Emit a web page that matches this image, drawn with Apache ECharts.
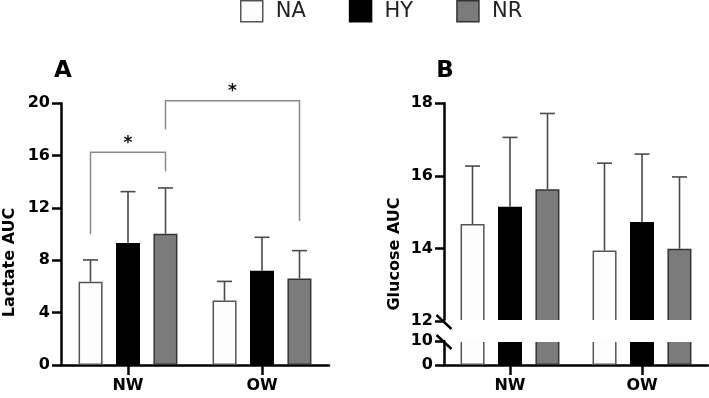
<!DOCTYPE html>
<html>
<head>
<meta charset="utf-8">
<script src="https://cdn.jsdelivr.net/npm/echarts@6/dist/echarts.min.js"></script>
<style>
html, body { margin: 0; padding: 0; background: #fff; }
#main { width: 709px; height: 398px; }
</style>
</head>
<body>
<div id="main"></div>
<script>
// AUC bar chart, panels A (lactate) and B (glucose, broken axis)

var groups = ['NW', 'OW'];
var names = ['NA', 'HY', 'NR'];

// panel A - lactate AUC, means and SD
var lactateNA = [6.37, 4.92];
var lactateHY = [9.32, 7.21];
var lactateNR = [10.04, 6.62];
var lactateSdNA = [1.66, 1.47];
var lactateSdHY = [3.93, 2.55];
var lactateSdNR = [3.49, 2.12];

// panel B - glucose AUC, means and SD
var glucoseNA = [14.67, 13.94];
var glucoseHY = [15.15, 14.73];
var glucoseNR = [15.63, 13.99];
var glucoseSdNA = [1.60, 2.41];
var glucoseSdHY = [1.91, 1.87];
var glucoseSdNR = [2.09, 1.98];

// significance brackets in panel A: [fromGroup, fromBar, fromY, toGroup, toBar, toY, topY]
var brackets = [
    [0, 0, 10.0, 0, 2, 14.8, 16.25],
    [0, 2, 18.0, 1, 2, 11.0, 20.2]
];

// axis ticks
var ticksA = [0, 20, 4];
var ticksBUpper = [12, 18, 2];
var ticksBLower = [0, 10, 10];

var colors = ['#fdfdfd', '#000000', '#7b7b7b'];
var borders = ['#555555', '#000000', '#333333'];
var FONT = 'DejaVu Sans';
var BAR_W = 24;
var BAR_STEP = 37.5;

var dom = document.getElementById('main');
var myChart = echarts.init(dom);

function errorData(means, sds) {
    var out = [];
    means.forEach(function (m, g) {
        out.push([g, m, sds[g]]);
    });
    return out;
}

function errorSeries(xi, yi, bar, means, sds) {
    return {
        type: 'custom',
        xAxisIndex: xi,
        yAxisIndex: yi,
        encode: { x: 0, y: 1 },
        clip: false,
        z: 3,
        silent: true,
        data: errorData(means, sds),
        renderItem: function (params, api) {
            var g = api.value(0), m = api.value(1), s = api.value(2);
            var base = api.coord([g, m]);
            var top = api.coord([g, m + s]);
            var x = base[0] + (bar - 1) * BAR_STEP;
            var st = { stroke: '#4a4a4a', lineWidth: 1.6 };
            return {
                type: 'group',
                children: [
                    { type: 'line', shape: { x1: x, y1: base[1], x2: x, y2: top[1] }, style: st },
                    { type: 'line', shape: { x1: x - 7.5, y1: top[1], x2: x + 7.5, y2: top[1] }, style: st }
                ]
            };
        }
    };
}

function barSeries(name, idx, xi, yi, values) {
    return {
        name: name,
        type: 'bar',
        xAxisIndex: xi,
        yAxisIndex: yi,
        barWidth: BAR_W,
        barGap: '56%',
        clip: true,
        silent: true,
        itemStyle: { color: colors[idx], borderColor: borders[idx], borderWidth: 1.5 },
        data: values
    };
}

// the "//" marks on the broken y axis, plus a white band hiding the bar edges in the gap
function breakSeries(xi, yi, level, gapDir) {
    return {
        type: 'custom',
        xAxisIndex: xi,
        yAxisIndex: yi,
        encode: { x: 0, y: 1 },
        clip: false,
        silent: true,
        z: 5,
        data: [[0, level]],
        renderItem: function (params, api) {
            var yAxisPos = api.coord([0, api.value(1)])[1];
            var cs = params.coordSys;
            var x = cs.x;
            var y = yAxisPos + 1;
            return {
                type: 'group',
                children: [
                    {
                        type: 'rect',
                        shape: { x: x + 1.5, y: gapDir > 0 ? yAxisPos - 1 : yAxisPos - 9, width: cs.width + 2, height: 10 },
                        style: { fill: '#fff' }
                    },
                    {
                        type: 'line',
                        shape: { x1: x - 7.5, y1: y - 7, x2: x + 7.5, y2: y + 7 },
                        style: { stroke: '#000', lineWidth: 2.4 }
                    }
                ]
            };
        }
    };
}

var axisLine = { show: true, lineStyle: { color: '#000', width: 2.5 } };
var tickLabel = { color: '#000', fontFamily: FONT, fontWeight: 'bold', fontSize: 16 };

function yAxis(gi, t) {
    return {
        type: 'value',
        gridIndex: gi,
        min: t[0],
        max: t[1],
        interval: t[2],
        axisLine: axisLine,
        axisTick: { show: true, length: 9, lineStyle: { color: '#000', width: 2.5 } },
        axisLabel: Object.assign({ margin: 11 }, tickLabel),
        splitLine: { show: false }
    };
}

function xAxis(gi, visible) {
    return {
        type: 'category',
        gridIndex: gi,
        data: groups,
        show: visible,
        axisLine: axisLine,
        axisTick: { show: true, alignWithLabel: true, length: 10, lineStyle: { color: '#000', width: 2.5 } },
        axisLabel: Object.assign({ margin: 13 }, tickLabel),
        splitLine: { show: false }
    };
}

var option = {
    animation: false,
    legend: {
        top: 0,
        left: 240,
        padding: 0,
        itemWidth: 22,
        itemHeight: 21,
        itemGap: 43,
        selectedMode: false,
        icon: 'rect',
        textStyle: { fontFamily: FONT, fontSize: 21, color: '#222', padding: [0, 0, 0, 8] },
        data: names.map(function (n, i) {
            return { name: n, itemStyle: { color: colors[i], borderColor: borders[i], borderWidth: 1.5 } };
        })
    },
    grid: [
        { left: 61, top: 103.3, width: 268, height: 261.7, outerBoundsMode: 'none' },
        { left: 444, top: 103.3, width: 264, height: 217.7, outerBoundsMode: 'none' },
        { left: 444, top: 341, width: 264, height: 24, outerBoundsMode: 'none' }
    ],
    xAxis: [xAxis(0, true), xAxis(1, false), xAxis(2, true)],
    yAxis: [yAxis(0, ticksA), yAxis(1, ticksBUpper), yAxis(2, ticksBLower)],
    graphic: [
        { type: 'text', x: 63, y: 71, style: { text: 'A', fontFamily: FONT, fontWeight: 'bold', fontSize: 23, fill: '#000', align: 'center', verticalAlign: 'middle' } },
        { type: 'text', x: 445, y: 71, style: { text: 'B', fontFamily: FONT, fontWeight: 'bold', fontSize: 23, fill: '#000', align: 'center', verticalAlign: 'middle' } },
        { type: 'text', x: 9.5, y: 262.5, rotation: Math.PI / 2, style: { text: 'Lactate AUC', fontFamily: FONT, fontWeight: 'bold', fontSize: 16, fill: '#000', align: 'center', verticalAlign: 'middle' } },
        { type: 'text', x: 395, y: 254, rotation: Math.PI / 2, style: { text: 'Glucose AUC', fontFamily: FONT, fontWeight: 'bold', fontSize: 16, fill: '#000', align: 'center', verticalAlign: 'middle' } }
    ],
    series: [
        barSeries('NA', 0, 0, 0, lactateNA),
        barSeries('HY', 1, 0, 0, lactateHY),
        barSeries('NR', 2, 0, 0, lactateNR),
        errorSeries(0, 0, 0, lactateNA, lactateSdNA),
        errorSeries(0, 0, 1, lactateHY, lactateSdHY),
        errorSeries(0, 0, 2, lactateNR, lactateSdNR),

        barSeries('NA', 0, 1, 1, glucoseNA),
        barSeries('HY', 1, 1, 1, glucoseHY),
        barSeries('NR', 2, 1, 1, glucoseNR),
        errorSeries(1, 1, 0, glucoseNA, glucoseSdNA),
        errorSeries(1, 1, 1, glucoseHY, glucoseSdHY),
        errorSeries(1, 1, 2, glucoseNR, glucoseSdNR),

        barSeries('NA', 0, 2, 2, glucoseNA),
        barSeries('HY', 1, 2, 2, glucoseHY),
        barSeries('NR', 2, 2, 2, glucoseNR),

        breakSeries(1, 1, ticksBUpper[0], 1),
        breakSeries(2, 2, ticksBLower[1], -1),

        {
            type: 'custom',
            xAxisIndex: 0,
            yAxisIndex: 0,
            encode: { x: 0, y: 2 },
            clip: false,
            silent: true,
            z: 4,
            data: brackets,
            renderItem: function (params, api) {
                var p1 = api.coord([api.value(0), api.value(2)]);
                var p2 = api.coord([api.value(3), api.value(5)]);
                var yt = api.coord([api.value(0), api.value(6)])[1];
                var x1 = p1[0] + (api.value(1) - 1) * BAR_STEP;
                var x2 = p2[0] + (api.value(4) - 1) * BAR_STEP;
                return {
                    type: 'group',
                    children: [
                        {
                            type: 'polyline',
                            shape: { points: [[x1, p1[1]], [x1, yt], [x2, yt], [x2, p2[1]]] },
                            style: { stroke: '#8a8a8a', lineWidth: 1.5, fill: null }
                        },
                        {
                            type: 'text',
                            x: (x1 + x2) / 2,
                            y: yt - 9,
                            style: { text: '*', fontFamily: FONT, fontWeight: 'bold', fontSize: 17, fill: '#111', align: 'center', verticalAlign: 'middle' }
                        }
                    ]
                };
            }
        }
    ]
};

if (option && typeof option === 'object') {
    myChart.setOption(option);
}
</script>
</body>
</html>
